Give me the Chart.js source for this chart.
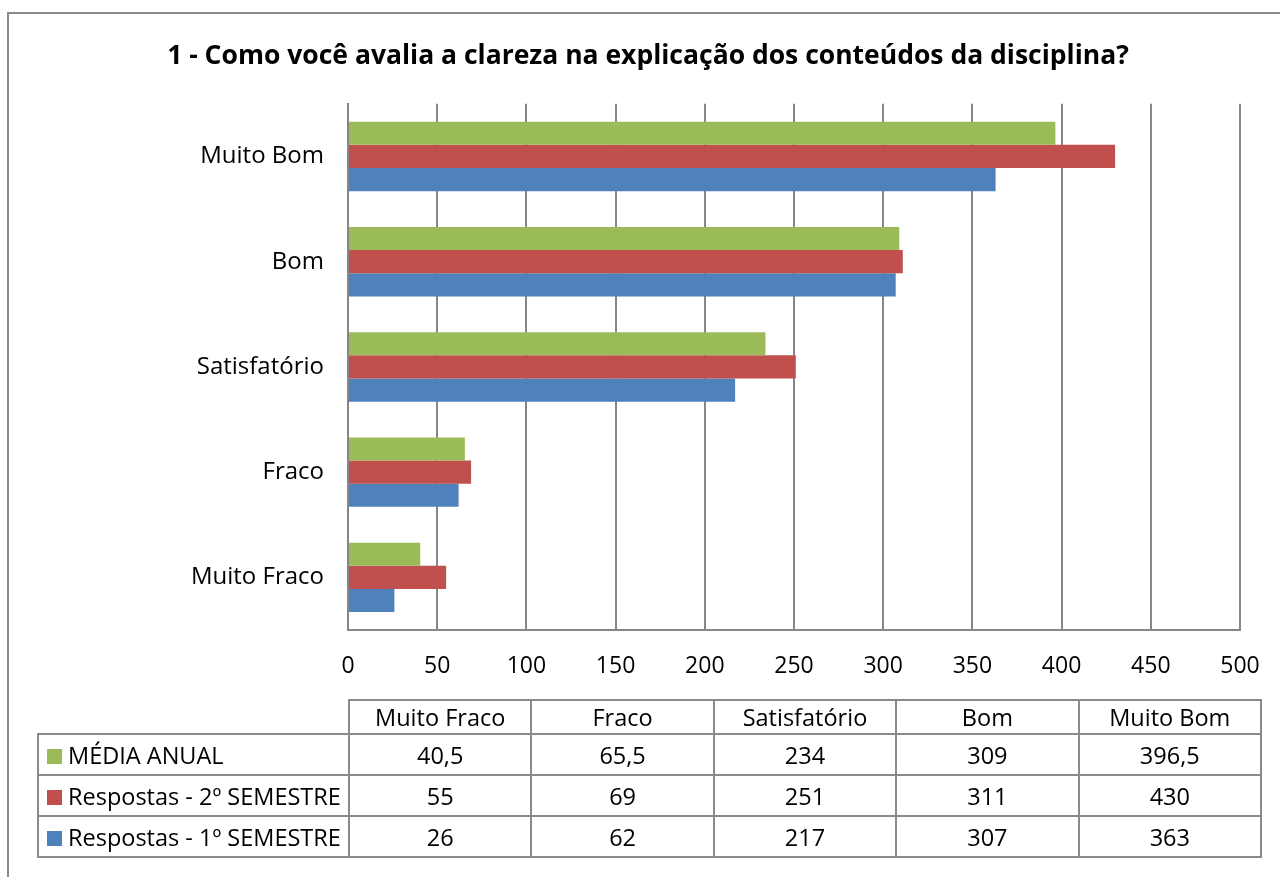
<!DOCTYPE html>
<html>
<head>
<meta charset="utf-8">
<script src="https://cdn.jsdelivr.net/npm/chart.js@4"></script>
<style>
  body { margin: 0; background: #fff; font-family: "Open Sans", sans-serif; overflow: hidden; }
  #frame { position: absolute; left: 7px; top: 12px; width: 1300px; height: 900px; border: 2px solid #8a8a8a; box-sizing: border-box; }
  #wrap { position: absolute; left: 56px; top: 0; width: 1224px; height: 700px; }
  #tabela { position: absolute; left: 37px; top: 699px; width: 1225px; table-layout: fixed; border-collapse: collapse; font-size: 23.5px; color: #000; }
  #tabela td { border: 2px solid #8a8a8a; height: 39px; padding: 0; text-align: center; white-space: nowrap; }
  #tabela tr.cab td { height: 31px; }
  #tabela td.nome { text-align: left; padding-left: 8px; }
  #tabela td.vazio { border: none; }
  .chave { display: inline-block; width: 15px; height: 15px; margin-right: 6px; vertical-align: 0px; }
</style>
</head>
<body>
<div id="frame"></div>
<div id="wrap"><canvas id="myChart" width="1224" height="700"></canvas></div>
<table id="tabela"></table>
<script>
// categorias na ordem da tabela
var categorias = ['Muito Fraco', 'Fraco', 'Satisfatório', 'Bom', 'Muito Bom'];
var series = ['MÉDIA ANUAL', 'Respostas - 2º SEMESTRE', 'Respostas - 1º SEMESTRE'];
var mediaAnual = [40.5, 65.5, 234, 309, 396.5];
var semestre2 = [55, 69, 251, 311, 430];
var semestre1 = [26, 62, 217, 307, 363];
var cores = ['#9BBB59', '#C0504D', '#4F81BD'];
var ticksX = [0, 50, 100, 150, 200, 250, 300, 350, 400, 450, 500];

var valores = [mediaAnual, semestre2, semestre1];
var fonte = 'Open Sans';

var ctx = document.getElementById('myChart').getContext('2d');
var chart = new Chart(ctx, {
  type: 'bar',
  data: {
    labels: categorias,
    datasets: series.map(function (nome, i) {
      return {
        label: nome,
        data: valores[i],
        backgroundColor: cores[i],
        borderWidth: 0,
        categoryPercentage: 0.66,
        barPercentage: 1
      };
    })
  },
  options: {
    indexAxis: 'y',
    responsive: false,
    animation: false,
    layout: { padding: { left: 0, right: 40, top: 0, bottom: 0 } },
    plugins: {
      legend: { display: false },
      tooltip: { enabled: false },
      title: {
        display: true,
        text: '1 - Como você avalia a clareza na explicação dos conteúdos da disciplina?',
        color: '#000',
        font: { family: fonte, size: 26.5, weight: 'bold', lineHeight: 1.2 },
        padding: { top: 41, bottom: 31 }
      }
    },
    scales: {
      x: {
        min: 0,
        max: 500,
        afterBuildTicks: function (axis) {
          axis.ticks = ticksX.map(function (v) { return { value: v }; });
        },
        afterFit: function (axis) {
          axis.height = 70;
          axis.paddingLeft = 0;
          axis.paddingRight = 0;
        },
        grid: { color: '#868686', lineWidth: 2, drawTicks: false },
        border: { color: '#868686', width: 2 },
        ticks: { color: '#000', padding: 23, font: { family: fonte, size: 23 } }
      },
      y: {
        reverse: true,
        afterFit: function (axis) { axis.width = 292; },
        grid: { display: false, drawTicks: false },
        border: { color: '#868686', width: 2 },
        ticks: { color: '#000', padding: 24, font: { family: fonte, size: 24 } }
      }
    }
  }
});

// tabela de dados abaixo do grafico
var tabela = document.getElementById('tabela');
var html = '<colgroup><col style="width:311px">';
categorias.forEach(function () { html += '<col>'; });
html += '</colgroup><tr class="cab"><td class="vazio nome"></td>';
categorias.forEach(function (c) { html += '<td>' + c + '</td>'; });
html += '</tr>';
series.forEach(function (nome, i) {
  html += '<tr><td class="nome"><span class="chave" style="background:' + cores[i] + '"></span>' + nome + '</td>';
  valores[i].forEach(function (v) { html += '<td>' + String(v).replace('.', ',') + '</td>'; });
  html += '</tr>';
});
tabela.innerHTML = html;
</script>
</body>
</html>
